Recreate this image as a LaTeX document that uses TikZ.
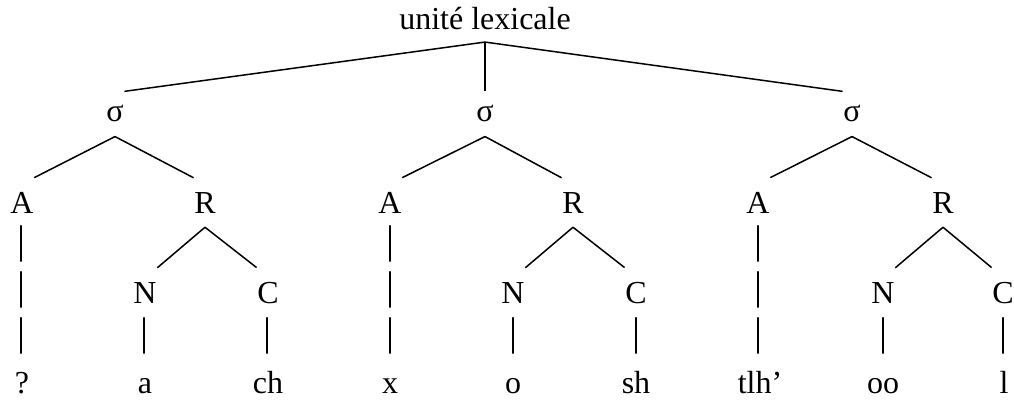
\documentclass[tikz,border=0pt]{standalone}
\usepackage{fontspec}
\setmainfont{Liberation Serif}

\begin{document}
\begin{tikzpicture}[x=1pt, y=-1pt, line width=1.5pt]
\useasboundingbox (0,0) rectangle (1014,401);
  \begin{scope}[every node/.style={anchor=base,inner xsep=0pt,inner ysep=13.5pt,font=\fontsize{32}{38}\selectfont}]
\node[inner ysep=11pt](lex) at (485,30) {unité lexicale};
\node(s1) at (115,122) {σ};
\node(s2) at (485,122) {σ};
\node(s3) at (852,122) {σ};
\node(a1) at (22,213) {A};
\node(r1) at (205,213) {R};
\node(a2) at (390,213) {A};
\node(r2) at (573,213) {R};
\node(a3) at (758,213) {A};
\node(r3) at (943,213) {R};
\node(n1) at (145,303) {N};
\node(c1) at (268,303) {C};
\node(n2) at (513,303) {N};
\node(c2) at (636,303) {C};
\node(n3) at (883,303) {N};
\node(c3) at (1003,303) {C};
\node(w1) at (22,393) {?};
\node(w2) at (145,393) {a};
\node(w3) at (268,393) {ch};
\node(w4) at (390,393) {x};
\node(w5) at (513,393) {o};
\node(w6) at (636,393) {sh};
\node(w7) at (760,393) {tlh’};
\node(w8) at (883,393) {oo};
\node(w9) at (1004,393) {l};
\end{scope}

  \begin{scope}[every node/.style={inner sep=0pt,font=\fontsize{40}{46}\selectfont}]
\node(p1) at (22,243.5) {|};
\node(p2) at (22,290) {|};
\node(p3) at (22,335.5) {|};
\node(p4) at (145,335.5) {|};
\node(p5) at (268,335.5) {|};
\node(p6) at (390,243.5) {|};
\node(p7) at (390,290) {|};
\node(p8) at (390,335.5) {|};
\node(p9) at (513,335.5) {|};
\node(p10) at (636,335.5) {|};
\node(p11) at (758,243.5) {|};
\node(p12) at (758,290) {|};
\node(p13) at (758,335.5) {|};
\node(p14) at (883,335.5) {|};
\node(p15) at (1003,335.5) {|};
\end{scope}

\draw (lex.south) -- (s1.north east);
\draw (lex.south) -- (s2.north);
\draw (lex.south) -- (s3.north west);

\draw (s1.south) -- (a1.north east);
\draw (s1.south) -- (r1.north west);
\draw (s2.south) -- (a2.north east);
\draw (s2.south) -- (r2.north west);
\draw (s3.south) -- (a3.north east);
\draw (s3.south) -- (r3.north west);

\draw (r1.south) -- (n1.north east);
\draw (r1.south) -- (c1.north west);
\draw (r2.south) -- (n2.north east);
\draw (r2.south) -- (c2.north west);
\draw (r3.south) -- (n3.north east);
\draw (r3.south) -- (c3.north west);
\end{tikzpicture}
\end{document}
